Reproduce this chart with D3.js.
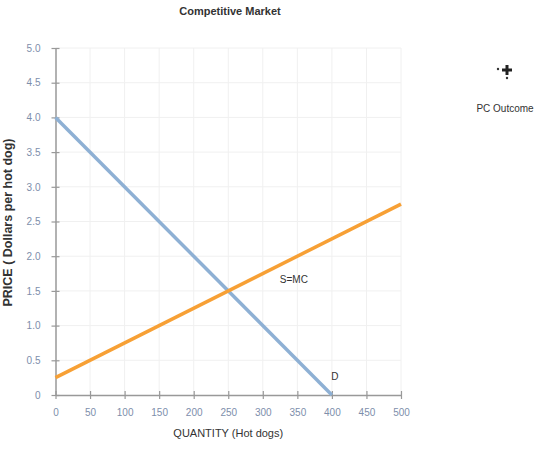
<!DOCTYPE html>
<html><head><meta charset="utf-8">
<script src="https://cdn.jsdelivr.net/npm/d3@7"></script>
<style>body{margin:0;background:#fff;font-family:"Liberation Sans",Arial,sans-serif}</style>
</head><body>
<svg id="c" width="560" height="453"></svg>
<script>
const xTicks = [0,50,100,150,200,250,300,350,400,450,500];
const yTicks = [0,0.5,1.0,1.5,2.0,2.5,3.0,3.5,4.0,4.5,5.0];
const demandQ = [0, 400];
const demandP = [4.0, 0];
const supplyQ = [0, 500];
const supplyP = [0.25, 2.75];

const svg = d3.select("#c");
const x = d3.scaleLinear().domain([0,500]).range([55.5,401]);
const y = d3.scaleLinear().domain([0,5]).range([395,48]);

// grid
svg.append("g").selectAll("line").data(xTicks.slice(1)).join("line")
  .attr("x1",d=>x(d)).attr("x2",d=>x(d)).attr("y1",y(5)).attr("y2",y(0))
  .attr("stroke","#f0f0f0").attr("stroke-width",1);
svg.append("g").selectAll("line").data(yTicks.slice(1)).join("line")
  .attr("x1",x(0)).attr("x2",x(500)).attr("y1",d=>y(d)).attr("y2",d=>y(d))
  .attr("stroke","#f0f0f0").attr("stroke-width",1);

// axes
const xa = svg.append("g").attr("transform",`translate(0,${y(0)})`)
  .call(d3.axisBottom(x).tickValues(xTicks).tickSize(4).tickSizeOuter(0).tickFormat(d3.format("d")));
const ya = svg.append("g").attr("transform",`translate(${x(0)},0)`)
  .call(d3.axisLeft(y).tickValues(yTicks).tickSize(4).tickSizeOuter(0).tickFormat(d=>d===0?"0":d3.format(".1f")(d)));
[xa,ya].forEach(a=>{
  a.attr("font-size",null);
  a.select(".domain").attr("stroke","#999").attr("stroke-width",1.5);
  a.selectAll(".tick line").attr("stroke","#999").attr("stroke-width",1.2);
  a.selectAll("text").attr("fill","#7d8eab").style("font-size","10px").style("font-family","Liberation Sans, Arial, sans-serif");
});
xa.selectAll(".tick line").attr("y1",-4).attr("y2",4);
xa.selectAll("text").attr("y",14);
ya.selectAll(".tick line").attr("x1",4).attr("x2",-4);
ya.selectAll("text").attr("x",-15);

// lines
const line = d3.line().x(d=>x(d[0])).y(d=>y(d[1]));
svg.append("path").datum(demandQ.map((q,i)=>[q,demandP[i]])).attr("d",line)
  .attr("fill","none").attr("stroke","#8eb0d4").attr("stroke-width",3.5);
svg.append("path").datum(supplyQ.map((q,i)=>[q,supplyP[i]])).attr("d",line)
  .attr("fill","none").attr("stroke","#f7a035").attr("stroke-width",3.5);

// labels
svg.append("text").attr("x",x(345)).attr("y",y(1.62)).text("S=MC")
  .attr("font-size",10).attr("fill","#333").attr("text-anchor","middle");
svg.append("text").attr("x",x(400)+3).attr("y",y(0.22)).text("D")
  .attr("font-size",10).attr("fill","#333").attr("text-anchor","middle");

svg.append("text").attr("x",230).attr("y",15).text("Competitive Market")
  .attr("font-size",11).attr("font-weight","bold").attr("fill","#333").attr("text-anchor","middle");
svg.append("text").attr("x",x(250)).attr("y",437).text("QUANTITY (Hot dogs)")
  .attr("font-size",11).attr("fill","#333").attr("text-anchor","middle");
svg.append("text").attr("transform",`translate(12,${y(2.5)+1}) rotate(-90)`).text("PRICE ( Dollars per hot dog)")
  .attr("font-size",12.5).attr("font-weight","bold").attr("fill","#333").attr("text-anchor","middle");

// PC outcome legend
const g = svg.append("g").attr("transform","translate(507,70)");
g.append("path").attr("d","M-1.5,-5H1.5V-1.5H5V1.5H1.5V5H-1.5V1.5H-5V-1.5H-1.5Z").attr("fill","#222");
g.append("circle").attr("cx",-9).attr("cy",-1).attr("r",1.2).attr("fill","#333");
g.append("circle").attr("cx",0).attr("cy",8).attr("r",1.2).attr("fill","#333");
svg.append("text").attr("x",505).attr("y",112).text("PC Outcome")
  .attr("font-size",10).attr("fill","#333").attr("text-anchor","middle");
</script>
</body></html>
